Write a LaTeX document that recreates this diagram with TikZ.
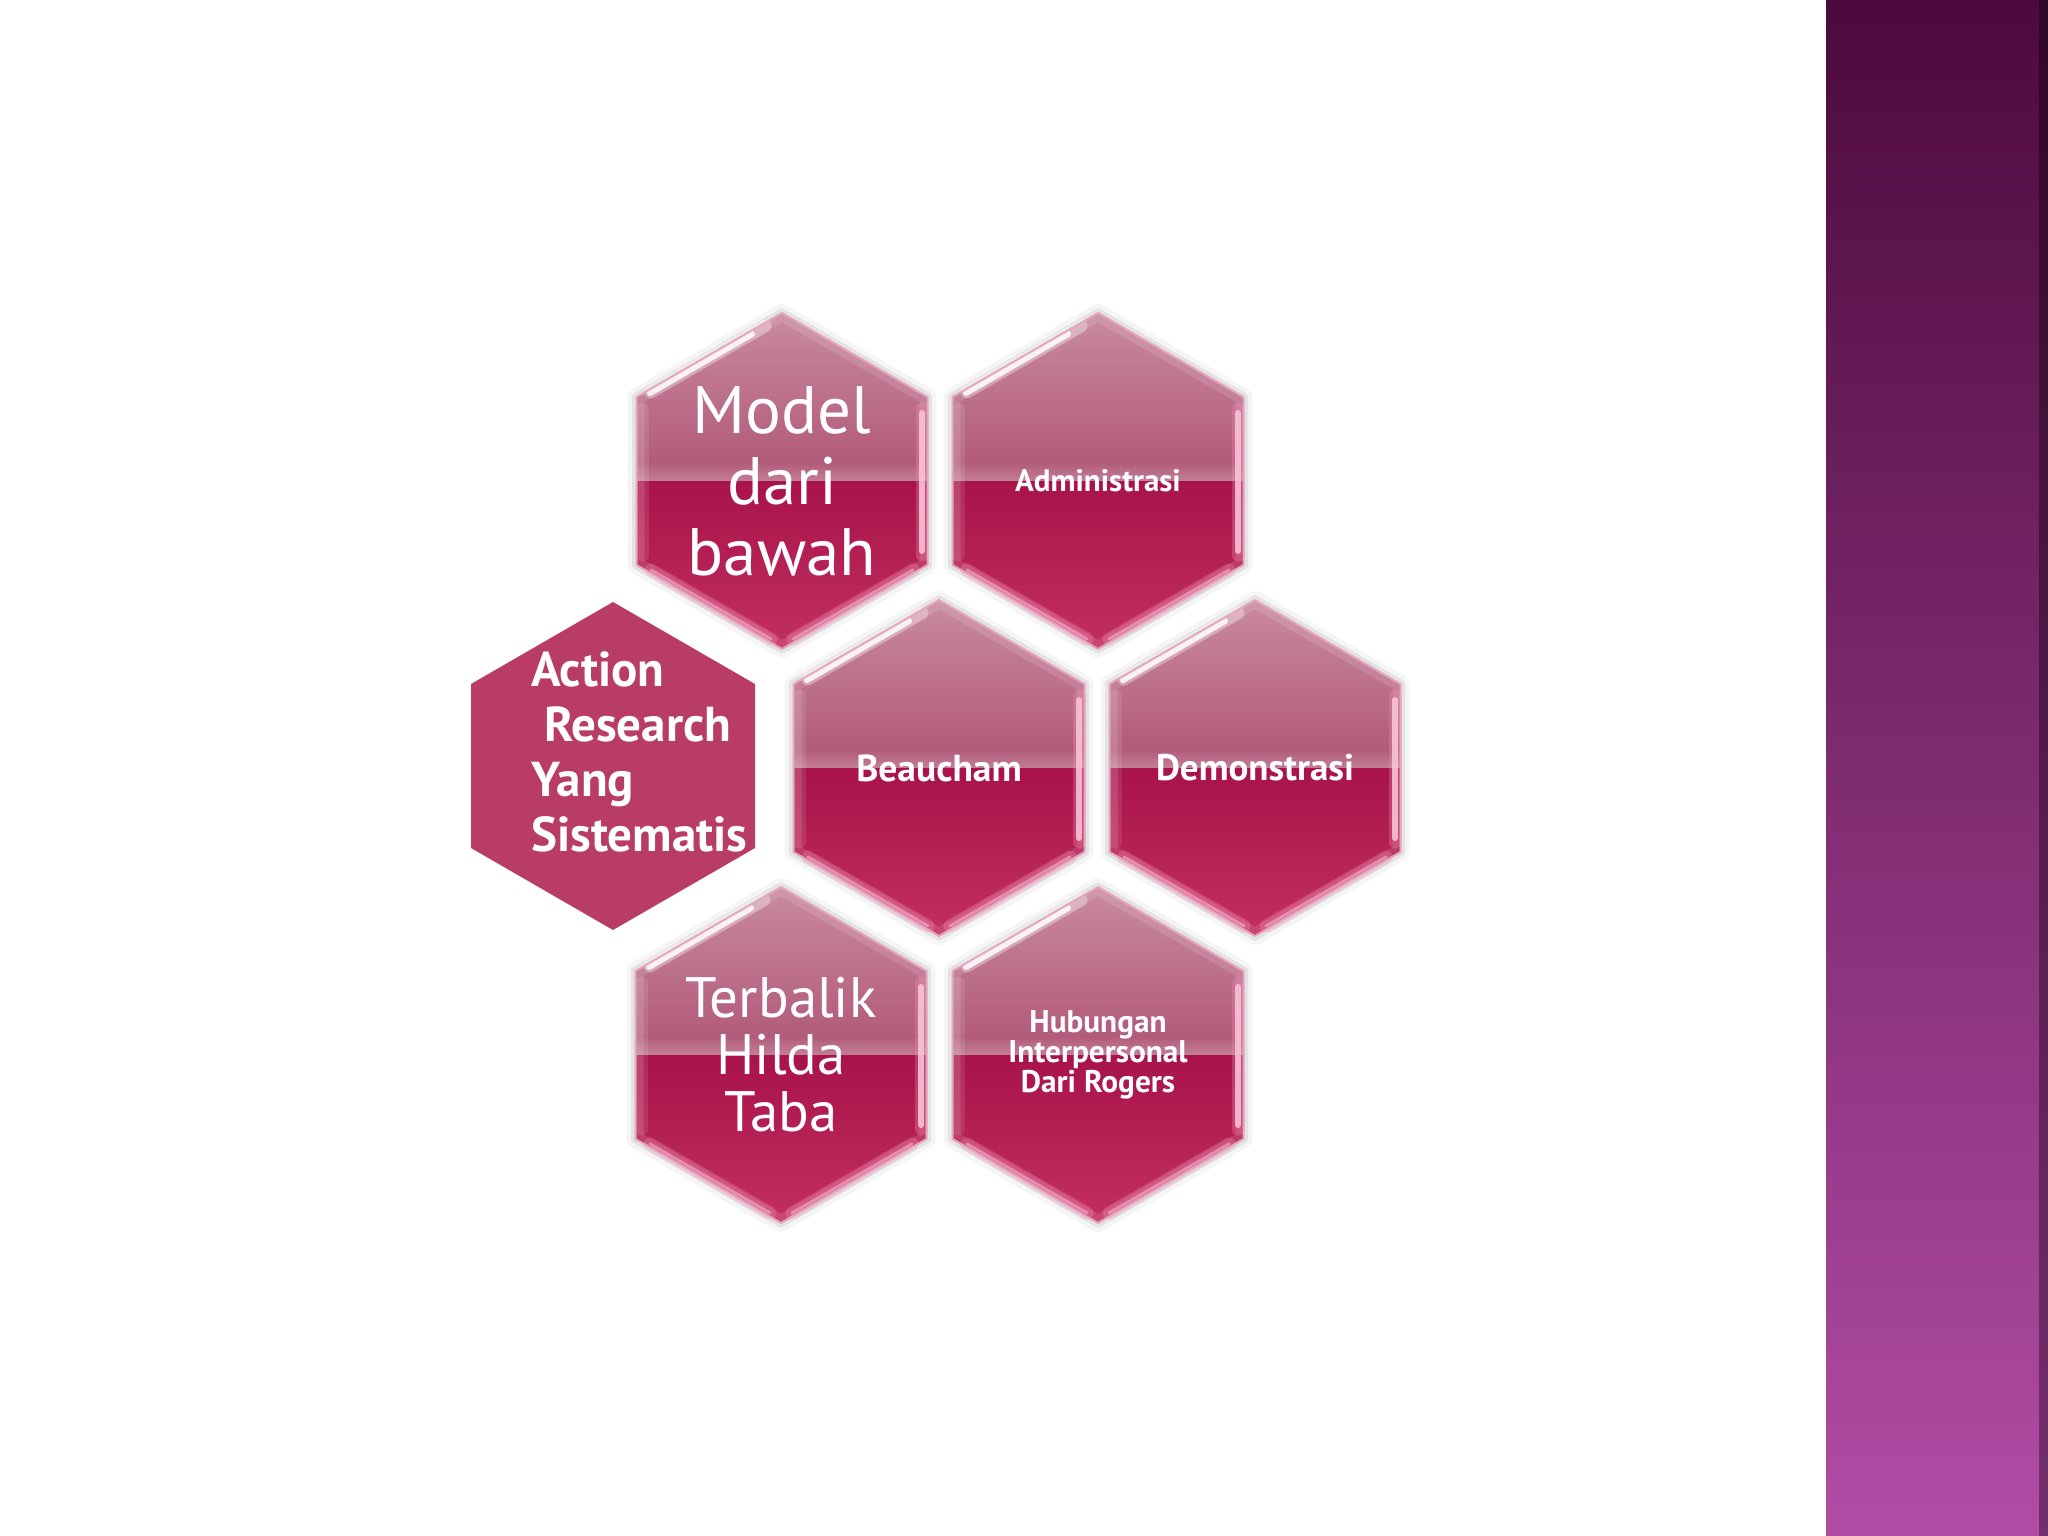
\documentclass[tikz,border=0pt]{standalone}
\usepackage{fontspec}
\setmainfont{PT Sans}
\usepackage{tikz}
\definecolor{hextop}{HTML}{C98BA0}
\definecolor{hexmid}{HTML}{B25B7B}
\definecolor{hexgloss}{HTML}{C27F97}
\definecolor{hexlow}{HTML}{A8134A}
\definecolor{hexbot}{HTML}{C2305F}
\definecolor{hexrim}{HTML}{E6A6BE}
\definecolor{hexshine}{HTML}{F58DB5}
\definecolor{hexflat}{HTML}{B83C66}
\definecolor{bartop}{HTML}{4C0A3C}
\definecolor{barmid}{HTML}{8A3A80}
\definecolor{barbot}{HTML}{B14CA5}
\tikzset{hexlabel/.style={text=white, align=center, inner sep=0pt},
  hexshadow/.style={black, line join=round},
  hexstreak/.style={line cap=round, line width=6pt},
  hexglow/.style={line cap=round, line width=13pt, opacity=0.3}}

\newcommand{\hexpath}{(0,-168) -- (-145.5,-84) -- (-145.5,84) -- (0,168) -- (145.5,84) -- (145.5,-84) -- cycle}
% #1 centre, #2 node name, #3 font, #4 text
\newcommand{\glosshex}[4]{%
  \begin{scope}[shift={#1}]
    \draw[hexshadow, opacity=0.04, line width=18pt] \hexpath;
    \draw[hexshadow, opacity=0.07, line width=9pt] \hexpath;
    \begin{scope}
      \clip \hexpath;
      \shade[top color=hextop, bottom color=hexmid] (-150,-170) rectangle (150,-18);
      \shade[top color=hexmid, bottom color=hexgloss] (-150,-18.5) rectangle (150,0);
      \shade[top color=hexlow, bottom color=hexbot] (-150,0) rectangle (150,170);
      \draw[white, opacity=0.12, line width=16pt, line join=round] \hexpath;
    \end{scope}
    \draw[hexglow, white] (-131,-89) -- (-17,-155);
    \draw[hexstreak, white, opacity=0.85] (-132,-88) -- (-30,-147);
    \draw[hexglow, hexshine] (140,-72) -- (140,74);
    \draw[hexstreak, hexshine!50!white, opacity=0.85] (140,-68) -- (140,70);
    \draw[hexglow, white, opacity=0.1] (-140,-72) -- (-140,74);
    \draw[hexglow, hexshine] (-131,89) -- (-11,158);
    \draw[hexglow, hexshine] (131,89) -- (11,158);
    \draw[hexstreak, hexshine!60!white, opacity=0.55, line width=3pt] (-131,89) -- (-11,158);
    \draw[hexstreak, hexshine!60!white, opacity=0.55, line width=3pt] (131,89) -- (11,158);
    \draw[hexrim, line width=2pt, line join=round] \hexpath;
    \node[hexlabel, font=#3] (#2) at (0,0) {#4};
  \end{scope}}

\begin{document}
\begin{tikzpicture}[x=1pt, y=-1pt]
\useasboundingbox (0,0) rectangle (2048,1536);
\fill[white] (0,0) rectangle (2048,1536);

% side bar
\shade[top color=bartop, middle color=barmid, bottom color=barbot] (1826,0) rectangle (2048,1536);
\fill[black, opacity=0.35] (2039,0) rectangle (2048,1536);

% plain hexagon
\fill[hexflat] (613,602) -- (471,684) -- (471,848) -- (613,930) -- (755,848) -- (755,684) -- cycle;
\node[hexlabel, align=left, anchor=west, font=\bfseries\fontsize{49}{55}\selectfont] (action) at (531,752)
  {Action\\\hspace*{13pt}Research\\Yang\\Sistematis};

% glossy hexagons
\glosshex{(782,481)}{model}{\fontsize{67}{71}\selectfont}{Model\\dari\\bawah}
\glosshex{(1098,481)}{admin}{\bfseries\fontsize{31}{33}\selectfont}{Administrasi}
\glosshex{(939,768)}{beaucham}{\bfseries\fontsize{37.5}{39}\selectfont}{Beaucham}
\glosshex{(1255,768)}{demo}{\bfseries\fontsize{37}{39}\selectfont}{Demonstrasi}
\glosshex{(781,1055)}{taba}{\fontsize{57}{57}\selectfont}{Terbalik\\Hilda\\Taba}
\glosshex{(1098,1055)}{rogers}{\bfseries\fontsize{31.3}{30}\selectfont}{Hubungan\\Interpersonal\\Dari Rogers}
\end{tikzpicture}
\end{document}
